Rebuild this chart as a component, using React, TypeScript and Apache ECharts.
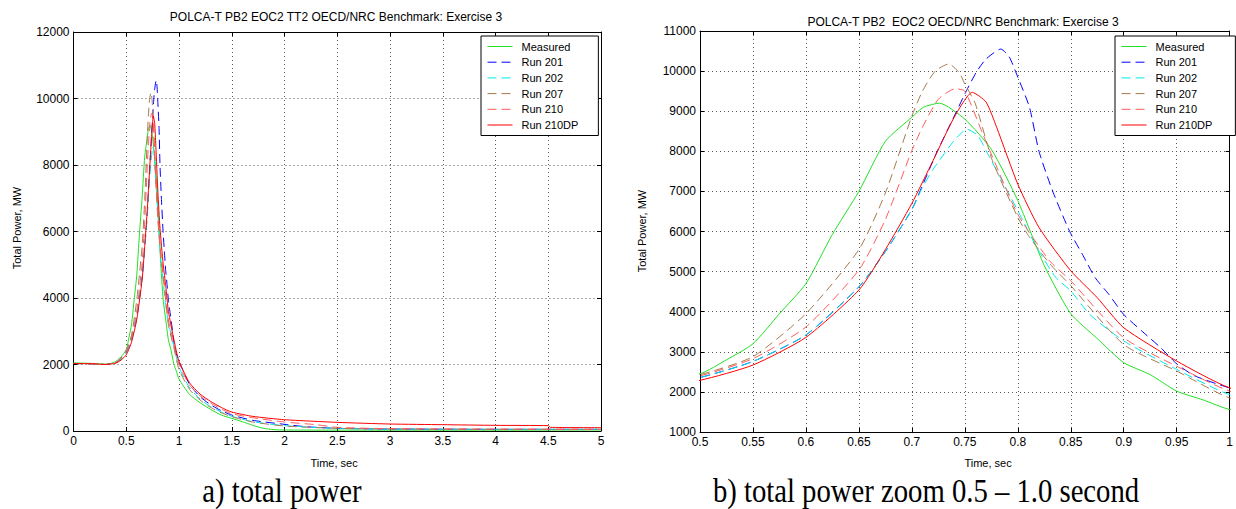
import { useEffect, useRef } from "react";
import * as echarts from "echarts";

// ---- data: [time (s), total power (MW)] ----
const seriesNames = ["Measured", "Run 201", "Run 202", "Run 207", "Run 210", "Run 210DP"];

const measured: [number, number][] = [
  [0, 2050], [0.1, 2040], [0.2, 2030], [0.3, 2010], [0.35, 2030], [0.4, 2090], [0.45, 2230],
  [0.5, 2450], [0.525, 2800], [0.55, 3200], [0.575, 3950], [0.6, 4700], [0.625, 5930],
  [0.65, 7000], [0.675, 8250], [0.7, 8850], [0.711, 9100], [0.726, 9200], [0.75, 8800],
  [0.775, 8050], [0.8, 6770], [0.825, 5150], [0.85, 3950], [0.875, 3330], [0.9, 2730],
  [0.925, 2430], [0.95, 2020], [0.975, 1800], [1.0, 1560], [1.1, 1100], [1.2, 850], [1.3, 650],
  [1.4, 480], [1.5, 380], [1.6, 280], [1.7, 170], [1.8, 80], [1.9, 40], [2.0, 30], [3, 25],
  [4, 25], [5, 30],
];

const run201: [number, number][] = [
  [0, 2030], [0.2, 2020], [0.3, 2000], [0.4, 2050], [0.45, 2160], [0.5, 2360], [0.55, 2760],
  [0.6, 3420], [0.65, 4620], [0.675, 5500], [0.7, 6550], [0.71, 7150], [0.724, 8000],
  [0.741, 8930], [0.75, 9430], [0.761, 9980], [0.77, 10300], [0.784, 10550], [0.792, 10350],
  [0.8, 9850], [0.811, 9100], [0.82, 8000], [0.833, 7000], [0.849, 6000], [0.861, 5430],
  [0.873, 4850], [0.886, 4430], [0.9, 3930], [0.917, 3520], [0.935, 3100], [0.95, 2700],
  [0.967, 2400], [1.0, 2100], [1.1, 1400], [1.2, 1030], [1.3, 790], [1.4, 610], [1.5, 480],
  [1.7, 320], [2.0, 200], [2.2, 130], [2.5, 80], [3, 60], [4, 50], [5, 50],
];

const run202: [number, number][] = [
  [0, 2030], [0.2, 2020], [0.3, 2000], [0.4, 2050], [0.45, 2160], [0.5, 2360], [0.55, 2760],
  [0.6, 3420], [0.65, 4620], [0.675, 5500], [0.7, 6550], [0.71, 7100], [0.72, 7550],
  [0.74, 8270], [0.752, 8550], [0.762, 8400], [0.77, 8020], [0.79, 7020], [0.8, 6520],
  [0.818, 5600], [0.836, 4850], [0.85, 4520], [0.868, 3930], [0.9, 3270], [0.95, 2560],
  [1.0, 1930], [1.1, 1300], [1.2, 960], [1.3, 730], [1.4, 570], [1.5, 440], [1.7, 280],
  [2.0, 160], [2.5, 80], [3, 60], [4, 50], [5, 50],
];

const run207: [number, number][] = [
  [0, 2030], [0.2, 2020], [0.3, 2000], [0.4, 2060], [0.45, 2200], [0.5, 2430], [0.55, 2880],
  [0.6, 3950], [0.65, 5550], [0.675, 6960], [0.7, 8880], [0.71, 9500], [0.722, 10000],
  [0.735, 10180], [0.745, 9950], [0.75, 9680], [0.76, 9180], [0.776, 7770], [0.8, 6350],
  [0.81, 5900], [0.83, 5200], [0.85, 4650], [0.9, 3180], [0.95, 2520], [1.0, 1850],
  [1.1, 1250], [1.2, 930], [1.3, 710], [1.4, 550], [1.5, 430], [1.7, 270], [2.0, 150],
  [2.5, 80], [3, 60], [4, 50], [5, 50],
];

const run210: [number, number][] = [
  [0, 2030], [0.2, 2020], [0.3, 2000], [0.4, 2060], [0.45, 2190], [0.5, 2400], [0.55, 2830],
  [0.6, 3620], [0.65, 5040], [0.675, 6300], [0.7, 8020], [0.71, 8600], [0.725, 9300],
  [0.741, 9560], [0.75, 9500], [0.767, 8430], [0.8, 6430], [0.83, 5270], [0.85, 4770],
  [0.9, 3350], [0.95, 2640], [1.0, 2020], [1.1, 1380], [1.2, 1060], [1.3, 840], [1.4, 660],
  [1.5, 520], [1.7, 400], [2.0, 270], [2.3, 190], [2.5, 110], [3, 70], [4, 60], [5, 50],
];

const run210DP: [number, number][] = [
  [0, 2030], [0.2, 2020], [0.3, 2000], [0.4, 2040], [0.45, 2130], [0.5, 2290], [0.55, 2670],
  [0.6, 3360], [0.65, 4540], [0.675, 5550], [0.7, 6700], [0.72, 7770], [0.74, 8850],
  [0.757, 9470], [0.77, 9230], [0.78, 8600], [0.8, 7180], [0.82, 6100], [0.85, 5020],
  [0.875, 4350], [0.9, 3600], [0.95, 2770], [1.0, 2100], [1.1, 1450], [1.2, 1110], [1.3, 890],
  [1.4, 710], [1.5, 570], [1.7, 440], [2.0, 340], [2.5, 260], [3.0, 210], [3.5, 190],
  [4.0, 170], [4.5, 160], [4.52, 110], [5, 100],
];

const allData = [measured, run201, run202, run207, run210, run210DP];

const leftTitle = "POLCA-T PB2 EOC2 TT2 OECD/NRC Benchmark: Exercise 3";
const rightTitle = "POLCA-T PB2  EOC2 OECD/NRC Benchmark: Exercise 3";
const yName = "Total Power, MW";
const xName = "Time, sec";
const captionA = "a) total power";
const captionB = "b) total power zoom 0.5 \u2013 1.0 second";

// ---- styles ----
const colors = ["#22e022", "#0000ff", "#00e8e8", "#a57a50", "#ff5c5c", "#ff0000"];
const dashed = [false, true, true, true, true, false];
const FONT = "Liberation Sans";

function fmt(v: number) {
  return String(Math.round(v * 1000) / 1000);
}

export default function App() {
  const ref = useRef<HTMLDivElement>(null);
  useEffect(() => {
    document.body.style.margin = "0";
    if (!ref.current) return;
    const chart = echarts.init(ref.current, null, { renderer: "svg" });

    const grids = [
      { left: 73.5, top: 32, width: 527.5, height: 399 },
      { left: 700, top: 31, width: 535, height: 401 },
    ];
    const dotted = { color: "#555", width: 1, type: [1, 3] as any };
    const axisLine = { show: true, onZero: false, lineStyle: { color: "#000", width: 1 } };
    const tick = { show: true, inside: true, length: 4, lineStyle: { color: "#000" } };
    const label = {
      fontSize: 12, fontFamily: FONT, color: "#000", margin: 4,
      showMinLabel: true, showMaxLabel: true, formatter: fmt,
    };

    const xRanges = [
      { min: 0, max: 5, interval: 0.5 },
      { min: 0.5, max: 1, interval: 0.05 },
    ];
    const yRanges = [
      { min: 0, max: 12000, interval: 2000 },
      { min: 1000, max: 11000, interval: 1000 },
    ];

    const xAxis: any[] = [];
    const yAxis: any[] = [];
    for (let g = 0; g < 2; g++) {
      xAxis.push({
        type: "value", gridIndex: g, position: "bottom", ...xRanges[g],
        axisLine, axisTick: tick, axisLabel: label,
        splitLine: { show: true, lineStyle: dotted },
      });
      xAxis.push({
        type: "value", gridIndex: g, position: "top", ...xRanges[g],
        axisLine, axisTick: tick, axisLabel: { show: false }, splitLine: { show: false },
      });
      yAxis.push({
        type: "value", gridIndex: g, position: "left", ...yRanges[g],
        axisLine, axisTick: tick, axisLabel: label,
        splitLine: { show: true, lineStyle: dotted },
      });
      yAxis.push({
        type: "value", gridIndex: g, position: "right", ...yRanges[g],
        axisLine, axisTick: tick, axisLabel: { show: false }, splitLine: { show: false },
      });
    }

    const series: any[] = [];
    for (let g = 0; g < 2; g++) {
      allData.forEach((d, i) => {
        series.push({
          type: "line",
          name: seriesNames[i],
          xAxisIndex: g * 2,
          yAxisIndex: g * 2,
          data: d,
          symbol: "none",
          showSymbol: false,
          smooth: 0.2,
          clip: true,
          lineStyle: { color: colors[i], width: 1, type: dashed[i] ? [9, 5] : "solid" },
          itemStyle: { color: colors[i] },
          emphasis: { disabled: true },
        });
      });
    }

    const legendBase = {
      data: seriesNames,
      orient: "vertical",
      itemWidth: 25,
      itemHeight: 10,
      itemGap: 4.7,
      borderColor: "#000",
      borderWidth: 1,
      borderRadius: 0,
      backgroundColor: "#fff",
      itemStyle: { opacity: 0 },
      lineStyle: { width: 1 },
      textStyle: { fontSize: 11, fontFamily: FONT, color: "#000", padding: [0, 0, 0, 4] },
      selectedMode: false,
    };

    const txt = (x: number, y: number, text: string, size: number, extra: any = {}) => ({
      type: "text",
      x, y,
      ...extra,
      style: {
        text, fill: "#000", fontSize: size, fontFamily: extra.family || FONT,
        textAlign: "center", textVerticalAlign: "middle",
      },
    });

    chart.setOption({
      animation: false,
      backgroundColor: "#fff",
      grid: grids,
      xAxis,
      yAxis,
      series,
      legend: [
        { ...legendBase, left: 481, top: 36, padding: [5, 20, 5, 6] },
        { ...legendBase, left: 1115, top: 36, padding: [5, 23, 5, 6] },
      ],
      graphic: [
        txt(336, 17, leftTitle, 12),
        txt(963, 22, rightTitle, 12),
        txt(334, 463, xName, 11),
        txt(988, 463, xName, 11),
        txt(17, 228, yName, 11, { rotation: Math.PI / 2 }),
        txt(642, 231, yName, 11, { rotation: Math.PI / 2 }),
        txt(282, 491, captionA, 33, { scaleX: 0.87, family: "Liberation Serif" }),
        txt(926, 491, captionB, 33, { scaleX: 0.87, family: "Liberation Serif" }),
      ],
    });
    return () => chart.dispose();
  }, []);
  return <div ref={ref} style={{ width: 1236, height: 509 }} />;
}
